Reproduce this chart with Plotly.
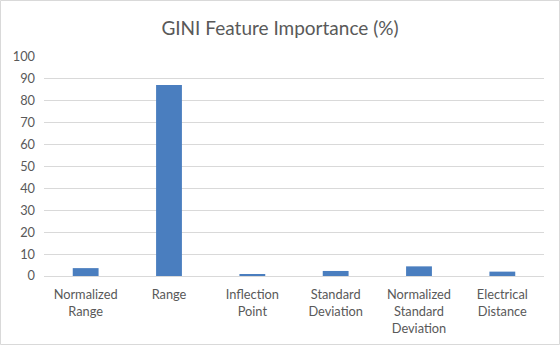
import plotly.graph_objects as go

categories = ["Normalized<br>Range", "Range", "Inflection<br>Point", "Standard<br>Deviation",
              "Normalized<br>Standard<br>Deviation", "Electrical<br>Distance"]
values = [3.6, 87.2, 0.6, 2.3, 4.4, 2.0]
tick_vals = list(range(0, 101, 10))

W, H = 560, 345
ml, mr, mt, mb = 44, 16, 57, 69
pw, ph = W - ml - mr, H - mt - mb

fig = go.Figure(go.Bar(x=categories, y=values, marker_color="#4A7EBF", marker_line_width=0))

font = "Lato, Carlito, 'Open Sans', sans-serif"
fig.update_layout(
    width=W, height=H,
    margin=dict(l=ml, r=mr, t=mt, b=mb, autoexpand=False),
    paper_bgcolor="white", plot_bgcolor="white",
    bargap=0.69,
    showlegend=False,
    title=dict(text="GINI Feature Importance (%)", x=0.5, xanchor="center", xref="container",
               y=1 - 28 / H, yanchor="middle",
               font=dict(family=font, size=19, color="#595959")),
    font=dict(family=font, size=12.8, color="#595959"),
    xaxis=dict(showgrid=False, showline=True, linecolor="#d9d9d9", linewidth=1, automargin=False,
               ticks="", ticklabelstandoff=7, tickfont=dict(size=12.8, color="#595959")),
    yaxis=dict(range=[0, 100], tickvals=tick_vals, showgrid=True, gridcolor="#d9d9d9",
               zeroline=False, showline=False, ticks="", ticklabelstandoff=8, automargin=False,
               tickfont=dict(size=12.8, color="#595959")),
    shapes=[dict(type="rect", xref="paper", yref="paper",
                 x0=(0.5 - ml) / pw, x1=(W - 0.5 - ml) / pw,
                 y0=-(mb - 0.5) / ph,
                 y1=(ph + mt - 0.5) / ph,
                 line=dict(color="#d9d9d9", width=1))],
)

fig.write_html("out.html")
